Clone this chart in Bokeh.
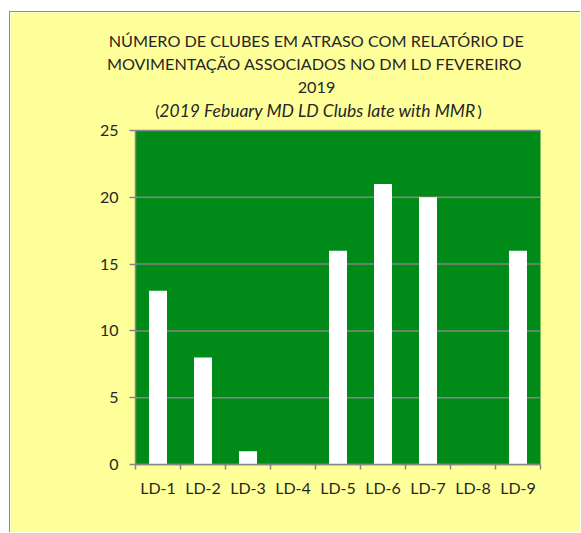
from bokeh.plotting import figure
from bokeh.models import Range1d, LinearAxis, FixedTicker, Label, CustomJSTickFormatter, ColumnDataSource, BoxAnnotation
from bokeh.embed import file_html
from bokeh.resources import INLINE

districts = ["LD-1", "LD-2", "LD-3", "LD-4", "LD-5", "LD-6", "LD-7", "LD-8", "LD-9"]
late_clubs = [13, 8, 1, 0, 16, 21, 20, 0, 16]
y_ticks = [0, 5, 10, 15, 20, 25]
title_lines = ["NÚMERO DE CLUBES EM ATRASO COM RELATÓRIO DE",
               "MOVIMENTAÇÃO  ASSOCIADOS NO DM LD FEVEREIRO",
               "2019"]
subtitle = "2019 Febuary MD LD Clubs late with MMR"

FONT = "Lato"
TXT = "#262626"
GRAY = "#868686"
GREEN = "#008A18"
YELLOW = "#FFFF99"

n = len(districts)
y_max = y_ticks[-1]
slot = [i + 0.5 for i in range(n)]   # centre of each category slot
src = ColumnDataSource(dict(x=slot, district=districts, top=late_clubs))

# layout constants (page px): plot area 135..540 x, 130..464 y
PX_PER_X = 45.0
PX_PER_UNIT = 334 / 25.0
CANVAS_L, CANVAS_T, CANVAS_R, CANVAS_B = 10, 12, 580, 532


def px_x(px):
    return (px - 135) / PX_PER_X


def px_y(py):
    return (464 - py) / PX_PER_UNIT


p = figure(x_range=Range1d(px_x(CANVAS_L), px_x(CANVAS_R)),
           y_range=Range1d(px_y(CANVAS_B), px_y(CANVAS_T)),
           frame_width=CANVAS_R - CANVAS_L, frame_height=CANVAS_B - CANVAS_T,
           min_border_left=0, min_border_right=0,
           min_border_top=0, min_border_bottom=0,
           output_backend="svg", toolbar_location=None,
           x_axis_location=None)
p.styles = {"margin-left": "9px", "margin-top": "11px",
            "border-left": "1px solid #8c8c8c", "border-top": "1px solid #8c8c8c"}

p.background_fill_color = YELLOW
p.border_fill_color = YELLOW
p.outline_line_color = None

# green plot area
p.add_layout(BoxAnnotation(left=0, right=n, bottom=0, top=y_max,
                           fill_color=GREEN, fill_alpha=1, line_color=None, level="image"))

# horizontal gridlines
p.xgrid.visible = False
p.ygrid.visible = False
p.segment(x0=0, x1=n, y0=y_ticks, y1=y_ticks, line_color=GRAY, line_width=1.5)

p.vbar(x="x", top="top", width=0.4, source=src, fill_color="white", line_color=None)

# x axis: labels at centres, ticks between categories
xaxis = LinearAxis(ticker=FixedTicker(ticks=slot, minor_ticks=list(range(n + 1))),
                   formatter=CustomJSTickFormatter(args=dict(labels=districts),
                                                   code="return labels[Math.floor(tick)] || ''"))
xaxis.fixed_location = 0
xaxis.bounds = (0, n)
xaxis.axis_line_color = GRAY
xaxis.axis_line_width = 1.5
xaxis.major_tick_line_color = None
xaxis.major_tick_out = 0
xaxis.major_tick_in = 0
xaxis.minor_tick_line_color = GRAY
xaxis.minor_tick_line_width = 1.5
xaxis.minor_tick_in = 0
xaxis.minor_tick_out = 5
xaxis.major_label_standoff = 8
xaxis.major_label_text_font = FONT
xaxis.major_label_text_font_size = "16px"
xaxis.major_label_text_color = TXT
p.add_layout(xaxis, "below")

yaxis = p.yaxis[0]
yaxis.fixed_location = 0
yaxis.ticker = FixedTicker(ticks=y_ticks)
yaxis.bounds = (0, y_max)
yaxis.axis_line_color = GRAY
yaxis.axis_line_width = 1.5
yaxis.major_tick_line_color = GRAY
yaxis.major_tick_line_width = 1.5
yaxis.major_tick_in = 0
yaxis.major_tick_out = 6
yaxis.minor_tick_line_color = None
yaxis.major_label_standoff = 11
yaxis.major_label_text_font = FONT
yaxis.major_label_text_font_size = "16px"
yaxis.major_label_text_color = TXT

# title (positions in range coordinates)
title_y = [40, 63, 87]
for line, ty in zip(title_lines, title_y):
    p.add_layout(Label(x=px_x(316), y=px_y(ty), text=line,
                       text_font=FONT, text_font_size="16.2px", text_color=TXT,
                       text_align="center", text_baseline="middle"))
p.add_layout(Label(x=px_x(317), y=px_y(110), text=subtitle,
                   text_font=FONT, text_font_size="17.5px", text_font_style="italic",
                   text_color=TXT, text_align="center", text_baseline="middle"))
p.add_layout(Label(x=px_x(159), y=px_y(110), text="(",
                   text_font=FONT, text_font_size="16.2px", text_color=TXT,
                   text_align="right", text_baseline="middle"))
p.add_layout(Label(x=px_x(477), y=px_y(110), text=")",
                   text_font=FONT, text_font_size="16.2px", text_color=TXT,
                   text_align="left", text_baseline="middle"))

open("out.html", "w").write(file_html(p, INLINE))
